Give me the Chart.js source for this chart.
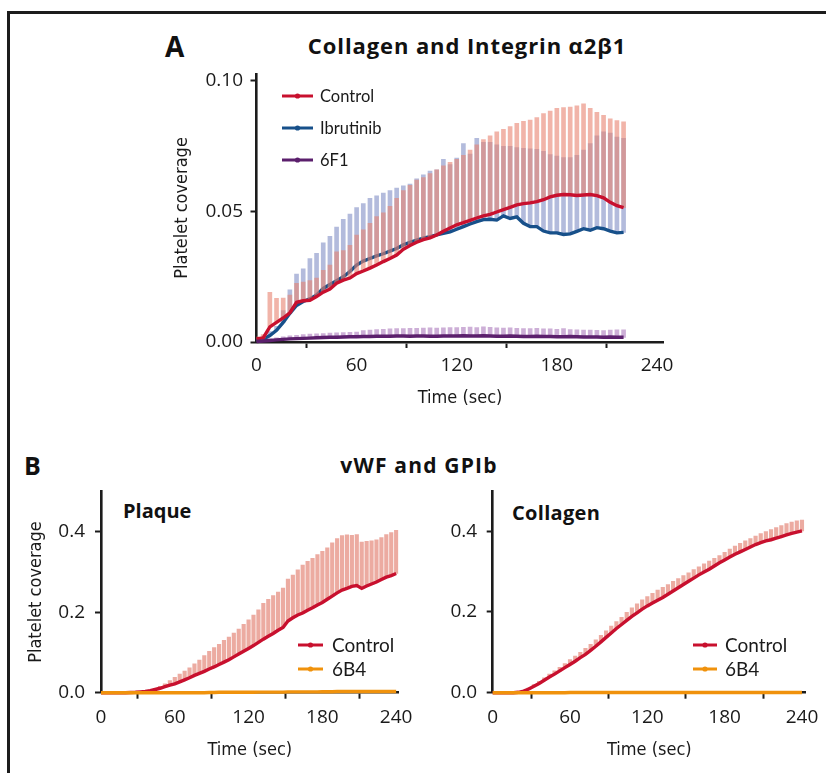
<!DOCTYPE html>
<html>
<head>
<meta charset="utf-8">
<script src="https://cdn.jsdelivr.net/npm/chart.js@4.4.1/dist/chart.umd.min.js"></script>
<style>
    body { margin: 0; background: #fff; width: 826px; height: 773px; position: relative; overflow: hidden; font-family: 'Open Sans', sans-serif; color: #111; }
    canvas { position: absolute; }
    .lbl { position: absolute; white-space: nowrap; line-height: 1; font-family: 'Open Sans', sans-serif; font-weight: 700; color: #111; }
    .ctr { transform: translate(-50%, -50%); }
    .mid { transform: translate(0, -50%); }
    #frame { position: absolute; left: 7px; top: 11px; width: 840px; height: 800px; border-top: 3px solid #1c1c1c; border-left: 3px solid #1c1c1c; }
</style>
</head>
<body>
<div id="frame"></div>
<div class="lbl mid" style="left:165px; top:46px; font-size:28px;">A</div>
<div class="lbl ctr" style="left:467px; top:45px; font-size:22px; letter-spacing:0.9px;">Collagen and Integrin α2β1</div>
<div class="lbl mid" style="left:24px; top:465px; font-size:25px;">B</div>
<div class="lbl ctr" style="left:419px; top:465px; font-size:21px; letter-spacing:1.2px;">vWF and GPIb</div>
<div class="lbl mid" style="left:123px; top:511px; font-size:20px;">Plaque</div>
<div class="lbl mid" style="left:512px; top:513px; font-size:20px; letter-spacing:0.3px;">Collagen</div>

<canvas id="chartA"></canvas>
<canvas id="chartPlaque"></canvas>
<canvas id="chartCollagen"></canvas>

<script>
// ---- Panel A: Collagen and Integrin a2b1 (time in sec, every 4 s) ----
const timeA = [0,4,8,12,16,20,24,28,32,36,40,44,48,52,56,60,64,68,72,76,80,84,88,92,96,100,104,108,112,116,
    120,124,128,132,136,140,144,148,152,156,160,164,168,172,176,180,184,188,192,196,200,204,208,212,216,220];

const controlMeanA = [0.0012,0.0016,0.0058,0.0075,0.0092,0.0112,0.0152,0.0158,0.016,0.0174,
    0.0191,0.0203,0.0225,0.0237,0.0245,0.0262,0.0272,0.0283,0.0295,0.0308,
    0.032,0.0333,0.0355,0.037,0.0382,0.0392,0.0399,0.041,0.0424,0.0437,
    0.0449,0.0457,0.0466,0.0475,0.0483,0.0489,0.0498,0.0507,0.0516,0.0525,
    0.053,0.0533,0.0538,0.0545,0.0556,0.0562,0.0565,0.0564,0.0561,0.0563,
    0.0565,0.0561,0.0552,0.0535,0.0522,0.0515];
const controlUpperA = [0.002,0.0028,0.019,0.0167,0.0168,0.018,0.0225,0.023,0.0235,0.0245,
    0.0275,0.0295,0.0345,0.035,0.037,0.041,0.043,0.0455,0.048,0.0495,
    0.052,0.055,0.058,0.06,0.062,0.063,0.0645,0.066,0.0675,0.0688,
    0.07,0.0715,0.0735,0.0755,0.0775,0.079,0.0805,0.0815,0.0825,0.0838,
    0.0845,0.085,0.086,0.0875,0.0885,0.0895,0.0898,0.09,0.0905,0.0912,
    0.0895,0.088,0.0868,0.0855,0.0848,0.0843];

const ibrutinibMeanA = [0.0008,0.001,0.0025,0.0045,0.0075,0.011,0.014,0.0155,0.0165,0.018,
    0.0205,0.022,0.0235,0.025,0.027,0.0295,0.031,0.032,0.033,0.0338,
    0.0348,0.0358,0.0372,0.0382,0.039,0.0398,0.0404,0.041,0.0416,0.0422,
    0.0432,0.0442,0.0452,0.0461,0.0469,0.047,0.0467,0.0483,0.0473,0.0479,
    0.0455,0.0442,0.0442,0.0425,0.0418,0.0418,0.0412,0.0414,0.0424,0.0434,
    0.0428,0.0438,0.0434,0.0425,0.0418,0.042];
const ibrutinibUpperA = [0.001,0.0015,0.004,0.006,0.012,0.02,0.026,0.028,0.032,0.034,
    0.038,0.0405,0.044,0.047,0.049,0.0515,0.053,0.055,0.056,0.057,
    0.058,0.059,0.0598,0.0605,0.0625,0.064,0.0655,0.066,0.07,0.068,
    0.0705,0.076,0.072,0.078,0.0765,0.0765,0.0755,0.075,0.075,0.0745,
    0.0742,0.074,0.0738,0.073,0.0718,0.0712,0.0706,0.0706,0.0715,0.0735,
    0.076,0.079,0.0805,0.08,0.0785,0.078];

const f6F1MeanA = [0.0002,0.0004,0.0006,0.0008,0.001,0.0012,0.0013,0.0014,0.0015,0.0016,
    0.0017,0.0018,0.0018,0.0019,0.002,0.002,0.0021,0.0021,0.0022,0.0022,
    0.0022,0.0023,0.0023,0.0022,0.0023,0.0023,0.0022,0.0022,0.0023,0.0023,
    0.0023,0.0024,0.0023,0.0023,0.0024,0.0023,0.0022,0.0022,0.0023,0.0022,
    0.0021,0.0021,0.0022,0.0021,0.0021,0.002,0.002,0.0021,0.002,0.0019,
    0.0019,0.0019,0.0018,0.0019,0.0018,0.0018];
const f6F1UpperA = [0.0004,0.0008,0.0012,0.0016,0.002,0.0024,0.0026,0.0028,0.003,0.0031,
    0.0032,0.0034,0.0035,0.0036,0.0037,0.0038,0.0044,0.0046,0.0048,0.0049,
    0.005,0.0051,0.0051,0.0052,0.0052,0.0053,0.0054,0.0053,0.0054,0.0055,
    0.0055,0.0056,0.0057,0.0055,0.0058,0.0056,0.0054,0.0053,0.0054,0.0052,
    0.0051,0.0051,0.0052,0.005,0.005,0.0049,0.0051,0.0048,0.0047,0.0046,
    0.0046,0.0045,0.0044,0.0046,0.0047,0.0047];

// ---- Panel B: vWF and GPIb (every 4 s) ----
const timeB = [0,4,8,12,16,20,24,28,32,36,40,44,48,52,56,60,64,68,72,76,80,84,88,92,96,100,104,108,112,116,
    120,124,128,132,136,140,144,148,152,156,160,164,168,172,176,180,184,188,192,196,200,204,208,212,216,220,
    224,228,232,236,240];

const plaqueControlMean = [0,0,0,0,0,0,0.0005,0.001,0.002,0.003,
    0.005,0.008,0.011,0.015,0.019,0.022,0.027,0.032,0.037,0.043,
    0.048,0.053,0.059,0.064,0.07,0.076,0.082,0.089,0.096,0.103,
    0.11,0.117,0.125,0.133,0.14,0.147,0.155,0.162,0.178,0.186,
    0.193,0.198,0.205,0.211,0.218,0.224,0.232,0.24,0.248,0.255,
    0.259,0.264,0.266,0.259,0.265,0.27,0.275,0.281,0.287,0.291,
    0.296];
const plaqueControlUpper = [0,0,0,0,0.0005,0.001,0.0015,0.002,0.003,0.005,
    0.007,0.011,0.016,0.022,0.03,0.038,0.046,0.054,0.062,0.072,
    0.081,0.092,0.103,0.112,0.12,0.13,0.138,0.148,0.158,0.17,
    0.181,0.193,0.206,0.222,0.232,0.241,0.25,0.26,0.282,0.292,
    0.305,0.317,0.326,0.334,0.343,0.351,0.36,0.372,0.383,0.39,
    0.392,0.391,0.393,0.374,0.376,0.377,0.38,0.385,0.393,0.398,
    0.403];
const plaque6B4Mean = [0,0,0,0,0,0,0,0,0,0,
    0,0,0,0,0,0,0,0,0,0,
    0,0,0.0005,0.0005,0.001,0.001,0.001,0.001,0.001,0.001,
    0.001,0.001,0.0015,0.0015,0.0015,0.0015,0.0015,0.0015,0.002,0.002,
    0.002,0.002,0.002,0.002,0.002,0.0025,0.0025,0.0025,0.003,0.003,
    0.003,0.003,0.003,0.003,0.003,0.003,0.003,0.003,0.003,0.003,
    0.003];

const collagenControlMean = [0,0,0,0,0,0.001,0.004,0.009,0.016,0.023,
    0.031,0.039,0.046,0.054,0.062,0.07,0.078,0.087,0.095,0.105,
    0.115,0.126,0.137,0.148,0.159,0.169,0.179,0.189,0.198,0.207,
    0.215,0.222,0.229,0.236,0.244,0.252,0.26,0.268,0.276,0.284,
    0.292,0.299,0.306,0.314,0.322,0.329,0.336,0.343,0.349,0.355,
    0.361,0.367,0.372,0.376,0.379,0.383,0.387,0.391,0.395,0.398,
    0.401];
const collagenControlUpper = [0,0,0,0,0,0.002,0.006,0.012,0.02,0.028,
    0.037,0.046,0.054,0.063,0.072,0.082,0.091,0.1,0.11,0.12,
    0.131,0.142,0.153,0.165,0.176,0.187,0.199,0.21,0.22,0.23,
    0.238,0.246,0.254,0.261,0.268,0.276,0.283,0.29,0.297,0.305,
    0.312,0.319,0.326,0.333,0.34,0.348,0.356,0.363,0.37,0.376,
    0.382,0.388,0.394,0.399,0.404,0.409,0.414,0.419,0.423,0.426,
    0.428];
const collagen6B4Mean = [0,0,0,0,0,0,0,0,0,0,
    0,0,0,0,0,0.0005,0.0005,0.0005,0.0005,0.0005,
    0.0005,0.0005,0.0005,0.0005,0.0005,0.0005,0.0005,0.0005,0.0005,0.0005,
    0.0005,0.0005,0.0005,0.0005,0.0005,0.0005,0.0005,0.0005,0.0005,0.0005,
    0.0005,0.0005,0.0005,0.0005,0.0005,0.0005,0.0005,0.0005,0.0005,0.0005,
    0.0005,0.0005,0.0005,0.0005,0.0005,0.0005,0.0005,0.0005,0.0005,0.0005,
    0.0005];

// tick labels
const timeTicks = [0, 60, 120, 180, 240];
const coverageTicksA = [0, 0.05, 0.10];
const coverageTicksB = [0, 0.2, 0.4];

// colours
const AXIS = '#1c1c1c';
const RED = '#c8102e';
const RED_BAR = 'rgba(232,130,112,0.6)';
const BLUE = '#17508a';
const BLUE_BAR = 'rgba(128,142,196,0.6)';
const PURPLE = '#5b1f6c';
const PURPLE_BAR = 'rgba(172,122,188,0.6)';
const ORANGE = '#f0920c';
const RED_BAR_B = 'rgba(224,120,104,0.62)';

const tickFont = { family: "'Open Sans', sans-serif", size: 19, lineHeight: 1.2 };
const titleFont = { family: "'DejaVu Sans Condensed', 'Liberation Sans Narrow', sans-serif", size: 18, lineHeight: 1.2 };

function linePoints(times, vals) {
    return times.map((t, i) => ({ x: t, y: vals[i] }));
}
function barPoints(times, lo, hi) {
    return times.map((t, i) => ({ x: t, y: [lo[i], hi[i]] }));
}

// draws the legend inside the plot, from the datasets flagged as legend entries
const insideLegend = {
    id: 'insideLegend',
    afterDatasetsDraw(chart, args, opts) {
        if (!opts || opts.x === undefined) return;
        const ctx = chart.ctx;
        const items = chart.data.datasets.filter(d => d.legendEntry);
        items.forEach((d, i) => {
            const y = opts.y + i * opts.dy;
            ctx.save();
            ctx.strokeStyle = d.borderColor;
            ctx.lineWidth = 3;
            ctx.beginPath();
            ctx.moveTo(opts.x, y);
            ctx.lineTo(opts.x + opts.len, y);
            ctx.stroke();
            ctx.fillStyle = d.borderColor;
            ctx.beginPath();
            ctx.arc(opts.x + opts.len / 2, y, 2.6, 0, Math.PI * 2);
            ctx.fill();
            ctx.font = opts.fontSize + "px Lato, 'Open Sans', sans-serif";
            ctx.fillStyle = '#1a1a1a';
            ctx.textBaseline = 'middle';
            ctx.fillText(d.label, opts.x + opts.len + opts.gap, y + 1);
            ctx.restore();
        });
    }
};

// box = canvas position on page, plot = wanted plot area on page
function buildChart(id, box, plot, cfg) {
    const canvas = document.getElementById(id);
    canvas.width = box.w;
    canvas.height = box.h;
    canvas.style.left = box.x + 'px';
    canvas.style.top = box.y + 'px';

    const yAxisW = plot.l - box.x;
    const xAxisH = box.y + box.h - plot.b;
    const lh = titleFont.size * titleFont.lineHeight;

    return new Chart(canvas.getContext('2d'), {
        type: 'line',
        data: { datasets: cfg.datasets },
        options: {
            responsive: false,
            animation: false,
            devicePixelRatio: 1,
            layout: { padding: { left: 0, top: plot.t - box.y, right: box.x + box.w - plot.r, bottom: 0 } },
            plugins: {
                legend: { display: false },
                tooltip: { enabled: false },
                insideLegend: cfg.legend
            },
            scales: {
                x: {
                    type: 'linear',
                    min: 0,
                    max: cfg.xMax,
                    offset: false,
                    afterBuildTicks: s => { s.ticks = timeTicks.map(v => ({ value: v })); },
                    afterFit: s => { s.height = xAxisH; },
                    grid: { display: true, drawOnChartArea: false, drawTicks: true, tickLength: 6, tickWidth: 2, tickColor: AXIS },
                    border: { display: true, color: AXIS, width: 2.6 },
                    ticks: { color: '#1a1a1a', font: tickFont, padding: cfg.xPad, maxRotation: 0, autoSkip: false },
                    title: {
                        display: true, text: 'Time (sec)', color: '#1a1a1a', font: titleFont,
                        padding: { top: 0, bottom: (box.y + box.h - cfg.xTitleY) - lh / 2 }
                    }
                },
                y: {
                    type: 'linear',
                    min: 0,
                    max: cfg.yMax,
                    afterBuildTicks: s => { s.ticks = cfg.yTicks.map(v => ({ value: v })); },
                    afterFit: s => { s.width = yAxisW; },
                    grid: { display: true, drawOnChartArea: false, drawTicks: true, tickLength: 6, tickWidth: 2, tickColor: AXIS },
                    border: { display: true, color: AXIS, width: 2.6 },
                    ticks: {
                        color: '#1a1a1a', font: tickFont, padding: cfg.yPad,
                        callback: v => v.toFixed(cfg.yDigits)
                    },
                    title: {
                        display: cfg.yTitleX !== null, text: 'Platelet coverage', color: '#1a1a1a', font: titleFont,
                        padding: { top: (cfg.yTitleX || 0) - box.x - lh / 2, bottom: 0 }
                    }
                }
            }
        },
        plugins: [insideLegend]
    });
}

function lineSet(label, times, vals, color, order, inLegend) {
    return {
        type: 'line', label: label, data: linePoints(times, vals),
        borderColor: color, backgroundColor: color, borderWidth: 3.4,
        pointRadius: 0, tension: 0, clip: false, order: order, legendEntry: inLegend
    };
}
function barSet(label, times, lo, hi, color, thickness, order) {
    return {
        type: 'bar', label: label, data: barPoints(times, lo, hi),
        backgroundColor: color, borderWidth: 0, barThickness: thickness,
        grouped: false, order: order, legendEntry: false
    };
}

// Panel A
buildChart('chartA',
    { x: 160, y: 55, w: 520, h: 365 },
    { l: 256.5, t: 62.7, r: 665, b: 342 },
    {
        xMax: 244, yMax: 0.1027, yTicks: coverageTicksA, yDigits: 2,
        xPad: 6.5, yPad: 7.5, xTitleY: 398, yTitleX: 182.5,
        legend: { x: 282 - 160, y: 96 - 55, dy: 32, len: 31, gap: 7, fontSize: 16.5 },
        datasets: [
            lineSet('Control', timeA, controlMeanA, RED, 3, true),
            lineSet('Ibrutinib', timeA, ibrutinibMeanA, BLUE, 5, true),
            lineSet('6F1', timeA, f6F1MeanA, PURPLE, 1, true),
            barSet('Control SD', timeA, controlMeanA, controlUpperA, RED_BAR, 4, 4),
            barSet('Ibrutinib SD', timeA, ibrutinibMeanA, ibrutinibUpperA, BLUE_BAR, 4, 6),
            barSet('6F1 SD', timeA, f6F1MeanA, f6F1UpperA, PURPLE_BAR, 4, 2)
        ]
    });

// Panel B, plaque
buildChart('chartPlaque',
    { x: 20, y: 470, w: 400, h: 300 },
    { l: 101, t: 484.3, r: 413.5, b: 692.7 },
    {
        xMax: 242, yMax: 0.5, yTicks: coverageTicksB, yDigits: 1,
        xPad: 7.5, yPad: 10, xTitleY: 750, yTitleX: 36,
        legend: { x: 298 - 20, y: 645 - 470, dy: 24, len: 25, gap: 9, fontSize: 19 },
        datasets: [
            lineSet('Control', timeB, plaqueControlMean, RED, 2, true),
            lineSet('6B4', timeB, plaque6B4Mean, ORANGE, 1, true),
            barSet('Control SD', timeB, plaqueControlMean, plaqueControlUpper, RED_BAR_B, 3.5, 3)
        ]
    });

// Panel B, collagen
buildChart('chartCollagen',
    { x: 412, y: 470, w: 414, h: 300 },
    { l: 492.7, t: 484.3, r: 806.6, b: 692.7 },
    {
        xMax: 243, yMax: 0.5, yTicks: coverageTicksB, yDigits: 1,
        xPad: 7.5, yPad: 9.5, xTitleY: 750, yTitleX: null,
        legend: { x: 693 - 412, y: 645 - 470, dy: 24, len: 24, gap: 8, fontSize: 19 },
        datasets: [
            lineSet('Control', timeB, collagenControlMean, RED, 2, true),
            lineSet('6B4', timeB, collagen6B4Mean, ORANGE, 1, true),
            barSet('Control SD', timeB, collagenControlMean, collagenControlUpper, RED_BAR_B, 3.5, 3)
        ]
    });
</script>
</body>
</html>
